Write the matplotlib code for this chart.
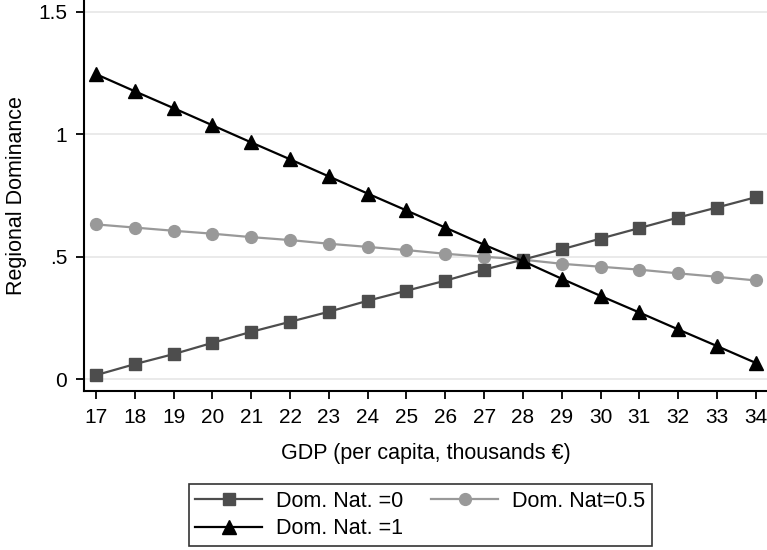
import matplotlib
matplotlib.use("Agg")
import matplotlib.pyplot as plt
import numpy as np

plt.rcParams['font.family'] = ['Liberation Sans', 'DejaVu Sans']

gdp = list(range(17, 35))
# values
dom0 = [0.016, 0.061, 0.102, 0.148, 0.193, 0.234, 0.275, 0.320, 0.361,
        0.402, 0.447, 0.488, 0.530, 0.574, 0.617, 0.660, 0.701, 0.743]
dom05 = [0.632, 0.619, 0.606, 0.594, 0.580, 0.568, 0.553, 0.540, 0.527,
         0.512, 0.500, 0.488, 0.471, 0.459, 0.447, 0.432, 0.418, 0.403]
dom1 = [1.246, 1.176, 1.107, 1.037, 0.967, 0.898, 0.828, 0.758, 0.689,
        0.619, 0.549, 0.482, 0.410, 0.340, 0.272, 0.203, 0.135, 0.066]
yticks = [0, 0.5, 1, 1.5]
ytick_labels = ['0', '.5', '1', '1.5']

fig = plt.figure(figsize=(7.67, 5.5), dpi=100)
ax = fig.add_axes([0.1095, 0.289, 0.8905, 0.711])

for v in yticks:
    ax.axhline(v, color='#e6e6e6', lw=1.2, zorder=0)

ax.plot(gdp, dom05, color='#999999', lw=1.6, marker='o', ms=8.5, label='Dom. Nat=0.5')
ax.plot(gdp, dom0, color='#4d4d4d', lw=1.6, marker='s', ms=8, label='Dom. Nat. =0')
ax.plot(gdp, dom1, color='black', lw=1.6, marker='^', ms=9.5, label='Dom. Nat. =1')

ax.set_xlim(16.69, 34.29)
ax.set_ylim(-0.049, 1.549)
ax.set_xticks(gdp)
ax.set_yticks(yticks)
ax.set_yticklabels(ytick_labels)
ax.tick_params(labelsize=15, length=6, width=1.3, direction='out', pad=6)
for s in ['top', 'right']:
    ax.spines[s].set_visible(False)
for s in ['left', 'bottom']:
    ax.spines[s].set_linewidth(1.5)

ax.set_xlabel('GDP (per capita, thousands €)', fontsize=15.5, labelpad=12)
ax.set_ylabel('Regional Dominance', fontsize=15.5, labelpad=8)

# legend fills row by row like the original
h, l = ax.get_legend_handles_labels()
order = [1, 2, 0]
leg = fig.legend([h[i] for i in order], [l[i] for i in order], ncol=2,
                 loc='lower center', bbox_to_anchor=(0.548, 0.0),
                 fontsize=15.5, frameon=True, fancybox=False, edgecolor='black',
                 handlelength=3.1, handletextpad=0.65, columnspacing=1.3,
                 borderpad=0.3, labelspacing=0.3, markerscale=1.0,
                 borderaxespad=0.2)
leg.get_frame().set_linewidth(1.2)

fig.savefig('out.png', dpi=100)
